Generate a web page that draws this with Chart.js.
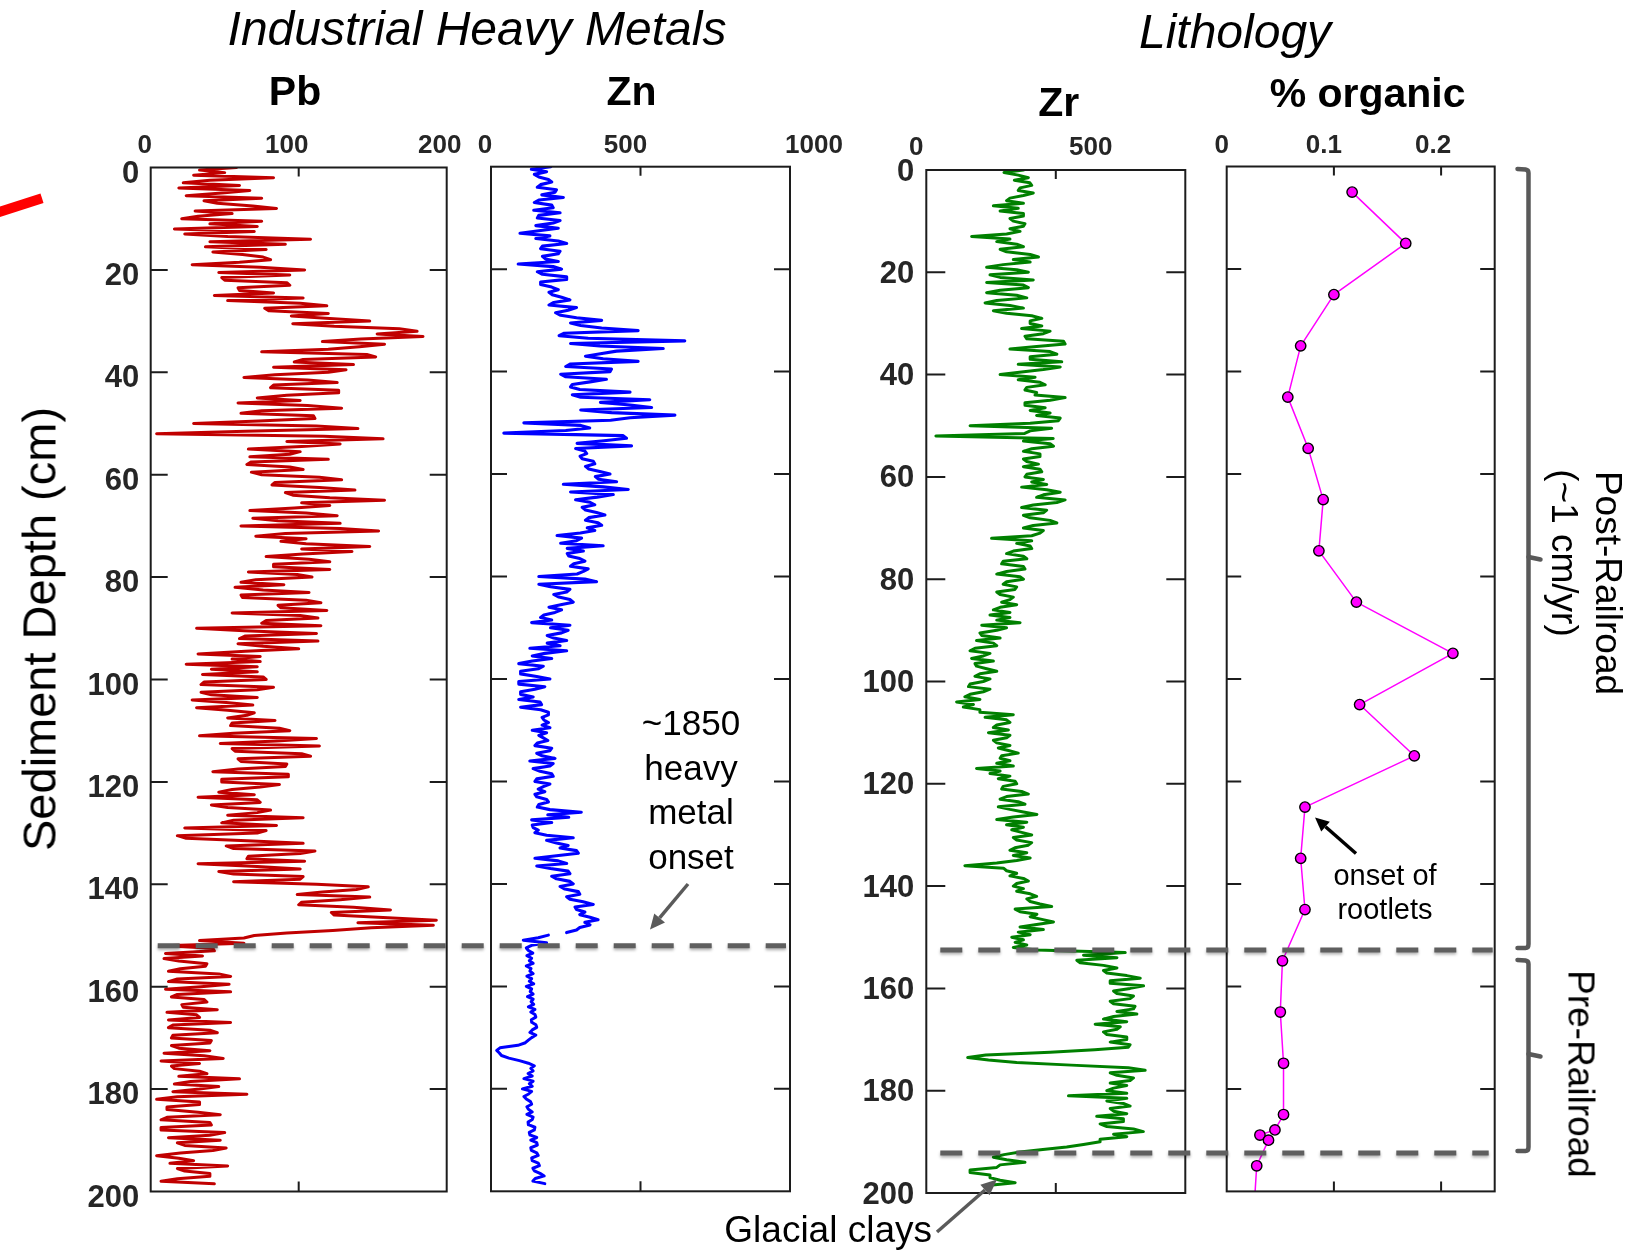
<!DOCTYPE html>
<html lang="en">
<head>
<meta charset="UTF-8">
<title>Sediment core profiles</title>
<script src="https://cdn.jsdelivr.net/npm/chart.js"></script>
<style>
  body { margin: 0; background: #fff; }
  #page { position: relative; width: 1650px; height: 1254px; overflow: hidden;
          font-family: "Liberation Sans", Arial, Helvetica, sans-serif; color: #000; }
  canvas { position: absolute; left: 0; top: 0; }
  .lbl { position: absolute; white-space: nowrap; line-height: 1; }
  .c { transform: translateX(-50%); text-align: center; }
  .b { font-weight: bold; }
  .i { font-style: italic; }
</style>
</head>
<body>
<div id="page">
  <canvas id="pbChart" width="1650" height="1254"></canvas>
  <canvas id="znChart" width="1650" height="1254"></canvas>
  <canvas id="zrChart" width="1650" height="1254"></canvas>
  <canvas id="orgChart" width="1650" height="1254"></canvas>

  <div class="lbl c i" style="left:477px; top:5px; font-size:48px;">Industrial Heavy Metals</div>
  <div class="lbl c i" style="left:1235px; top:7.5px; font-size:48px;">Lithology</div>
  <div class="lbl c b" style="left:295px; top:71.3px; font-size:41px;">Pb</div>
  <div class="lbl c b" style="left:631.5px; top:71.3px; font-size:41px;">Zn</div>
  <div class="lbl c b" style="left:1058.7px; top:82.3px; font-size:41px;">Zr</div>
  <div class="lbl c b" style="left:1367.6px; top:73.3px; font-size:41px;">% organic</div>

  <div class="lbl" style="left:39px; top:628.5px; font-size:47px; transform:translate(-50%,-50%) rotate(-90deg);">Sediment Depth (cm)</div>
  <div class="lbl" style="left:1607.8px; top:582.5px; font-size:37px; transform:translate(-50%,-50%) rotate(90deg);">Post-Railroad</div>
  <div class="lbl" style="left:1563.9px; top:553.3px; font-size:37px; transform:translate(-50%,-50%) rotate(90deg);">(~1 cm/yr)</div>
  <div class="lbl" style="left:1581.1px; top:1074px; font-size:37px; transform:translate(-50%,-50%) rotate(90deg);">Pre-Railroad</div>

  <div class="lbl c" style="left:691px; top:701px; font-size:35px; line-height:44.5px;">~1850<br>heavy<br>metal<br>onset</div>
  <div class="lbl c" style="left:1385px; top:857.6px; font-size:29px; line-height:34.7px;">onset of<br>rootlets</div>
  <div class="lbl" style="left:932px; top:1210.7px; font-size:37px; transform:translateX(-100%);">Glacial clays</div>
</div>

<script>
// ---- data (depth in cm) ----
const STEP = 0.5;   // scanner sampling interval, cm
const depthTicks = [0, 20, 40, 60, 80, 100, 120, 140, 160, 180, 200];
const pbTicks = [0, 100, 200];
const znTicks = [0, 500, 1000];
const zrTicks = [0, 500];
const orgTicks = [0, 0.1, 0.2];

const pbStart = 0;
const pbValues = [
  58,33, 50,29, 83,40, 22,60, 19,67, 48,24, 75,36, 45,69, 85,30, 55,32,
  21,75, 40,72, 16,70, 23,52, 108,40, 91,37, 78,42, 62,76, 81,60, 28,74,
  104,46, 94,48, 50,92, 94,59, 60,83, 43,103, 52,101, 119,77, 80,120, 95,121,
  148,96, 124,168, 180,153, 184,142, 116,158, 141,120, 75,146, 152,103, 97,137, 83,132,
  120,84, 63,106, 126,83, 81,127, 127,92, 72,101, 59,106, 129,75, 61,110, 111,73,
  29,112, 140,64, 4,117, 157,92, 128,102, 66,101, 94,67, 120,68, 65,94, 103,68,
  75,114, 129,84, 82,114, 138,91, 96,121, 158,102, 121,97, 67,105, 126,69, 86,128,
  61,128, 154,91, 71,105, 88,105, 148,102, 136,103, 78,107, 121,83, 83,121, 66,99,
  109,71, 61,90, 57,76, 107,61, 62,105, 115,86, 88,119, 55,101, 113,78, 75,115,
  31,63, 112,64, 60,113, 59,76, 100,64, 32,74, 55,74, 24,72, 41,72, 35,76,
  78,36, 34,83, 72,34, 41,72, 28,51, 69,31, 52,70, 65,52, 84,55, 54,87,
  94,56, 33,112, 85,47, 114,55, 57,102, 108,59, 61,92, 91,59, 42,93, 93,48,
  48,87, 74,55, 46,70, 32,72, 74,41, 52,81, 72,52, 103,56, 48,85, 23,78,
  72,18, 24,65, 103,51, 56,111, 101,66, 65,104, 32,72, 101,46, 56,103, 101,56,
  112,147, 139,116, 99,148, 128,102, 100,137, 162,122, 124,157, 193,140, 191,149, 123,92,
  70,63, 33,63, 9,42, 43,10, 35,9, 19,38, 37,20, 12,46, 54,18, 12,53,
  34,10, 54,18, 14,36, 38,21, 22,45, 11,31, 33,12, 54,15, 12,40, 45,15,
  14,41, 40,14, 19,40, 9,36, 49,7, 33,14, 16,33, 38,19, 60,27, 16,46,
  33,15, 65,18, 4,33, 33,11, 11,32, 47,11, 7,40, 41,7, 7,50, 40,12,
  47,18, 23,51, 42,20, 4,19, 29,13, 52,18, 23,40, 40,18, 7,43
];

const znUpperStart = 0;
const znUpperValues = [
  200,135, 186,145, 160,192, 203,166, 155,219, 214,170, 242,160, 145,203, 208,143, 231,160,
  155,231, 208,150, 225,160, 97,197, 150,225, 253,172, 166,231, 225,172, 182,225, 91,208,
  236,155, 172,253, 253,166, 166,203, 225,194, 205,236, 264,210, 194,286, 258,216, 233,286,
  370,266, 300,370, 492,245, 228,325, 648,266, 364,576, 420,366, 316,375, 492,266, 250,403,
  398,233, 250,386, 331,272, 266,297, 465,272, 300,531, 366,465, 537,300, 403,615, 465,400,
  110,300, 330,250, 43,442, 453,378, 288,470, 283,314, 320,298, 305,342, 347,316, 327,364,
  398,349, 360,420, 242,375, 459,266, 409,355, 283,331, 347,305, 316,353, 381,327, 316,358,
  370,322, 347,299, 221,303, 286,233, 375,255, 309,255, 260,297, 314,277, 266,325, 309,288,
  160,314, 353,160, 199,264, 253,210, 227,264, 275,233, 194,236, 214,177, 166,203, 136,264,
  199,258, 236,188, 210,253, 188,231, 130,253, 180,138, 203,138, 93,175, 158,99, 99,153,
  197,93, 93,180, 147,99, 99,141, 93,164, 169,99, 166,192, 192,171, 177,192, 171,197,
  138,186, 160,175, 190,155, 147,203, 197,153, 171,214, 130,208, 197,141, 164,203, 208,153,
  147,197, 175,158, 180,147, 153,186, 192,160, 155,197, 302,190, 260,136, 203,138, 141,158,
  147,186, 275,186, 219,258, 231,286, 292,219, 147,225, 253,153, 199,258, 264,203, 219,264,
  275,231, 247,292, 297,253, 264,308, 342,281, 286,314, 297,331, 358,314, 331,297, 286,253
];

const znLowerStart = 150;
const znLowerValues = [
  192,158, 108,186, 136,118, 125,140, 120,136, 128,141, 118,134, 130,141, 120,136, 128,143,
  118,136, 131,141, 122,141, 134,143, 125,147, 133,147, 150,135, 136,150, 153,138, 130,150,
  136,125, 115,90, 30,19, 28,35, 60,95, 125,145, 133,141, 124,138, 110,141, 128,138,
  105,136, 126,110, 118,132, 136,120, 125,138, 120,141, 138,124, 125,147, 145,128, 130,153,
  133,153, 155,133, 135,153, 158,136, 138,158, 162,140, 145,164, 178,148, 140,180
];

const zrStart = 0;
const zrValues = [
  375,300, 355,394, 340,400, 407,362, 355,413, 375,323, 310,375, 259,355, 285,375, 375,323,
  336,381, 375,323, 362,310, 175,323, 272,349, 375,285, 310,401, 433,336, 401,297, 233,349,
  394,246, 285,413, 233,375, 394,285, 233,349, 388,272, 227,323, 375,259, 310,407, 446,401,
  401,446, 368,478, 452,381, 388,530, 536,426, 323,478, 504,401, 401,523, 355,517, 452,368,
  285,420, 355,439, 459,388, 381,426, 420,536, 478,381, 381,459, 401,478, 426,517, 510,401,
  169,484, 401,380, 37,490, 375,478, 491,407, 375,439, 439,375, 388,433, 375,439, 446,388,
  381,452, 407,465, 368,465, 517,452, 426,536, 504,413, 368,465, 452,375, 401,478, 504,413,
  375,452, 439,407, 252,407, 349,401, 407,336, 310,375, 388,297, 291,375, 381,310, 272,362,
  375,310, 297,349, 342,272, 285,336, 323,291, 349,285, 259,323, 246,323, 272,362, 214,310,
  272,207, 214,285, 194,259, 272,188, 169,246, 220,175, 259,188, 194,233, 272,207, 188,246,
  220,169, 163,246, 220,169, 149,207, 117,182, 143,207, 207,336, 227,310, 323,272, 259,317,
  240,323, 310,259, 272,323, 278,317, 355,291, 285,323, 272,336, 194,285, 246,323, 278,343,
  349,297, 291,368, 394,310, 285,355, 381,278, 323,375, 427,336, 272,388, 310,375, 330,368,
  407,336, 349,407, 394,342, 323,388, 336,401, 349,272, 149,298, 310,349, 323,375, 394,349,
  336,375, 349,401, 426,388, 401,439, 484,343, 362,427, 401,446, 491,426, 362,452, 355,401,
  330,375, 343,388, 336,427, 768,607, 736,581, 594,684, 736,684, 697,774, 826,710, 710,839,
  787,723, 736,800, 787,710, 723,806, 800,736, 813,723, 684,774, 652,749, 736,684, 697,774,
  774,710, 787,780, 650,478, 230,160, 240,349, 560,780, 845,710, 736,800, 787,710, 774,723,
  697,774, 549,774, 697,761, 787,710, 723,774, 658,761, 761,671, 697,800, 838,723, 774,671,
  671,607, 542,450, 362,300, 259,310, 381,285, 272,169, 169,246, 246,285, 343,246
];

const organicDepths = [5, 15, 25, 35, 45, 55, 65, 75, 85, 95, 105, 115, 125, 135, 145,
                       155, 165, 175, 185, 188, 189, 190, 195, 205];
const organicValues = [0.117, 0.167, 0.100, 0.069, 0.057, 0.076, 0.090, 0.086, 0.121, 0.211,
                       0.124, 0.175, 0.073, 0.069, 0.073, 0.052, 0.050, 0.053, 0.053,
                       0.045, 0.031, 0.039, 0.028, 0.025];

const metalOnsetDepth = 152;
const railroadDepth = 152.5;
const glacialDepth = 192.2;

// ---- helpers ----
const W = 1650, H = 1254;
const FONT = '"Liberation Sans", Arial, Helvetica, sans-serif';

function toPoints(values, start) {
  return values.map((v, i) => ({ x: v, y: start + i * STEP }));
}

// frame, inward ticks and tick labels for each panel
const framePlugin = {
  id: 'frame',
  afterDatasetsDraw(chart, args, o) {
    const ctx = chart.ctx, a = chart.chartArea;
    const xs = chart.scales.x, ys = chart.scales.y;
    ctx.save();
    ctx.strokeStyle = '#1c1c1c';
    ctx.lineWidth = 2;
    ctx.beginPath();
    depthTicks.forEach(v => {
      if (v <= ys.min || v >= ys.max) return;
      const py = ys.getPixelForValue(v);
      ctx.moveTo(a.left, py); ctx.lineTo(a.left + o.tickLen, py);
      ctx.moveTo(a.right, py); ctx.lineTo(a.right - o.tickLen, py);
    });
    o.ticks.forEach(v => {
      if (v <= xs.min || v >= xs.max) return;
      const px = xs.getPixelForValue(v);
      ctx.moveTo(px, a.top); ctx.lineTo(px, a.top + 9);
      ctx.moveTo(px, a.bottom); ctx.lineTo(px, a.bottom - 10);
    });
    ctx.stroke();
    ctx.strokeRect(a.left, a.top, a.right - a.left, a.bottom - a.top);

    ctx.fillStyle = '#262626';
    ctx.textBaseline = 'alphabetic';
    ctx.font = 'bold 26px ' + FONT;
    ctx.textAlign = 'center';
    o.ticks.forEach((v, i) => {
      ctx.fillText(String(v), xs.getPixelForValue(v) + o.shift[i], o.labelBase);
    });
    if (o.depthLabels) {
      ctx.font = 'bold 31px ' + FONT;
      ctx.textAlign = 'right';
      depthTicks.forEach(v => {
        ctx.fillText(String(v), a.left - o.depthGap, ys.getPixelForValue(v) + o.depthDy);
      });
    }
    ctx.restore();
  }
};

function panel(id, datasets, xMax, area, frame, extraPlugins) {
  return new Chart(document.getElementById(id), {
    type: 'line',
    data: { datasets },
    options: {
      indexAxis: 'y',
      responsive: false,
      animation: false,
      devicePixelRatio: 1,
      events: [],
      layout: { padding: { left: area.left, top: area.top, right: W - area.right, bottom: H - area.bottom } },
      scales: {
        x: { type: 'linear', min: 0, max: xMax, display: false },
        y: { type: 'linear', min: 0, max: 200, reverse: true, display: false }
      },
      elements: { point: { radius: 0 }, line: { tension: 0 } },
      plugins: { legend: { display: false }, tooltip: { enabled: false }, frame }
    },
    plugins: [framePlugin].concat(extraPlugins || [])
  });
}

function lineSet(data, color, width) {
  return { data, borderColor: color, borderWidth: width, pointRadius: 0, fill: false,
           borderJoinStyle: 'round', borderCapStyle: 'round' };
}

// ---- panels ----
const pbChart = panel('pbChart',
  [lineSet(toPoints(pbValues, pbStart), '#c00000', 3.0)],
  200, { left: 150.7, right: 446.7, top: 167.5, bottom: 1191.5 },
  { ticks: pbTicks, shift: [-6, -12, -7], labelBase: 153, tickLen: 17,
    depthLabels: true, depthGap: 11.5, depthDy: 15 });

const znChart = panel('znChart',
  [lineSet(toPoints(znUpperValues, znUpperStart), '#0000ff', 3.1),
   lineSet(toPoints(znLowerValues, znLowerStart), '#0000ff', 3.0)],
  1000, { left: 491, right: 790, top: 166.7, bottom: 1191.3 },
  { ticks: znTicks, shift: [-6, -15, 24], labelBase: 153, tickLen: 16 });

const zrChart = panel('zrChart',
  [lineSet(toPoints(zrValues, zrStart), '#008000', 3.0)],
  1000, { left: 926.3, right: 1185.3, top: 170, bottom: 1193 },
  { ticks: zrTicks, shift: [-10, 35], labelBase: 154.5, tickLen: 19,
    depthLabels: true, depthGap: 12, depthDy: 10.5 });

function hLine(ctx, x1, x2, y) {
  ctx.beginPath(); ctx.moveTo(x1, y); ctx.lineTo(x2, y); ctx.stroke();
}

function arrow(ctx, x1, y1, x2, y2, color, w, hl, hw) {
  const ang = Math.atan2(y2 - y1, x2 - x1);
  const bx = x2 - hl * Math.cos(ang), by = y2 - hl * Math.sin(ang);
  ctx.strokeStyle = color; ctx.fillStyle = color; ctx.lineWidth = w;
  ctx.beginPath(); ctx.moveTo(x1, y1); ctx.lineTo(bx, by); ctx.stroke();
  ctx.beginPath();
  ctx.moveTo(x2, y2);
  ctx.lineTo(bx + hw / 2 * Math.sin(ang), by - hw / 2 * Math.cos(ang));
  ctx.lineTo(bx - hw / 2 * Math.sin(ang), by + hw / 2 * Math.cos(ang));
  ctx.closePath(); ctx.fill();
}

function bracket(ctx, x, top, bottom) {
  ctx.beginPath();
  ctx.moveTo(x - 11, top);
  ctx.lineTo(x - 3, top + 0.5);
  ctx.quadraticCurveTo(x, top + 1, x, top + 4);
  ctx.lineTo(x, bottom - 4);
  ctx.quadraticCurveTo(x, bottom, x - 3, bottom);
  ctx.lineTo(x - 11, bottom);
  ctx.stroke();
  const mid = (top + bottom) / 2;
  ctx.beginPath(); ctx.moveTo(x, mid - 1.5); ctx.lineTo(x + 12, mid + 1); ctx.stroke();
}

// boundaries, brackets, arrows drawn on top of everything
const overlayPlugin = {
  id: 'overlay',
  afterDraw(chart) {
    const ctx = chart.ctx;
    const orgY = chart.scales.y;
    ctx.save();
    ctx.setLineDash([22, 16]);
    ctx.lineWidth = 5;
    ctx.strokeStyle = '#5f5f5f';
    ctx.shadowColor = 'rgba(0,0,0,0.3)';
    ctx.shadowBlur = 3;
    ctx.shadowOffsetY = 2;
    hLine(ctx, pbChart.chartArea.left + 7, znChart.chartArea.right - 4, pbChart.scales.y.getPixelForValue(metalOnsetDepth));
    hLine(ctx, zrChart.chartArea.left + 14, chart.chartArea.right - 2, zrChart.scales.y.getPixelForValue(railroadDepth));
    hLine(ctx, zrChart.chartArea.left + 14, chart.chartArea.right - 6, zrChart.scales.y.getPixelForValue(glacialDepth));
    ctx.restore();

    ctx.save();
    ctx.strokeStyle = '#595959';
    ctx.lineWidth = 4.5;
    ctx.lineJoin = 'round';
    ctx.lineCap = 'round';
    const bx = 1528.5;
    const postBottom = orgY.getPixelForValue(railroadDepth);
    bracket(ctx, bx, orgY.getPixelForValue(0) + 2.5, postBottom);
    bracket(ctx, bx, postBottom + 12, orgY.getPixelForValue(glacialDepth) - 0.5);
    ctx.lineCap = 'butt';
    arrow(ctx, 688, 884, 650, 929.5, '#5a5a5a', 3.5, 15, 14);
    arrow(ctx, 937, 1232, 997, 1179.5, '#5a5a5a', 3.5, 16, 14);
    arrow(ctx, 1356, 853.5, 1315, 817.5, '#000000', 3.5, 14, 13);
    ctx.strokeStyle = '#ff0000';
    ctx.lineWidth = 10;
    ctx.beginPath(); ctx.moveTo(-2, 212.3); ctx.lineTo(42, 198.3); ctx.stroke();
    ctx.restore();
  }
};

const orgSet = lineSet(organicDepths.map((d, i) => ({ x: organicValues[i], y: d })), '#ff00ff', 1.5);
orgSet.pointRadius = 5.2;
orgSet.pointBackgroundColor = '#ff00ff';
orgSet.pointBorderColor = '#000000';
orgSet.pointBorderWidth = 1.4;

const orgChart = panel('orgChart', [orgSet],
  0.25, { left: 1226.7, right: 1494.7, top: 166.5, bottom: 1191.4 },
  { ticks: orgTicks, shift: [-5, -10, -8], labelBase: 152.5, tickLen: 14.5 },
  [overlayPlugin]);
</script>
</body>
</html>
